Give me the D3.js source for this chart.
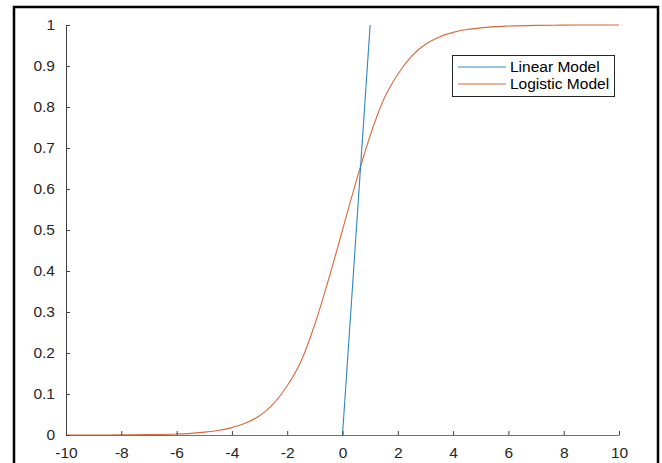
<!DOCTYPE html>
<meta charset="utf-8">
<style>
body { margin: 0; background: #fff; }
text { font-family: "Liberation Sans", Arial, sans-serif; }
</style>
<svg width="662" height="463"></svg>
<script src="https://cdn.jsdelivr.net/npm/d3@7/dist/d3.min.js"></script>
<script>

// values
var linearX = [0, 1];
var linearY = [0, 1];

var logisticX = [-10, -9, -8, -7, -6, -5.5, -5, -4.5, -4, -3.5, -3, -2.5, -2, -1.5, -1, -0.5, 0, 0.5, 1, 1.5, 2, 2.5, 3, 3.5, 4, 4.5, 5, 5.5, 6, 7, 8, 9, 10];
var logisticY = [0.0000, 0.0001, 0.0003, 0.0009, 0.0025, 0.004, 0.007, 0.011, 0.018, 0.029, 0.047, 0.076, 0.12, 0.18, 0.27, 0.38, 0.50, 0.62, 0.73, 0.82, 0.88, 0.924, 0.953, 0.971, 0.982, 0.989, 0.993, 0.996, 0.9975, 0.9991, 0.9997, 0.9999, 1.0];

var xTicks = [-10, -8, -6, -4, -2, 0, 2, 4, 6, 8, 10];
var yTicks = [0, 0.1, 0.2, 0.3, 0.4, 0.5, 0.6, 0.7, 0.8, 0.9, 1];
var seriesNames = ["Linear Model", "Logistic Model"];
var seriesColors = ["#2f86c2", "#d8693a"];

var svg = d3.select("svg");

// outer frame (bottom edge is cut off in the picture)
svg.append("rect")
   .attr("x", 14)
   .attr("y", 7)
   .attr("width", 644)
   .attr("height", 480)
   .attr("fill", "none")
   .attr("stroke", "#000")
   .attr("stroke-width", 2.5);

var x = d3.scaleLinear().domain([-10, 10]).range([66, 619]);
var y = d3.scaleLinear().domain([0, 1]).range([435, 25]);

var line = d3.line()
             .x(function(d) { return x(d[0]); })
             .y(function(d) { return y(d[1]); });

var linearData = d3.zip(linearX, linearY);
var logisticData = d3.zip(logisticX, logisticY);

svg.append("path")
   .datum(logisticData)
   .attr("fill", "none")
   .attr("stroke", seriesColors[1])
   .attr("stroke-width", 1.1)
   .attr("d", line.curve(d3.curveMonotoneX));

svg.append("path")
   .datum(linearData)
   .attr("fill", "none")
   .attr("stroke", seriesColors[0])
   .attr("stroke-width", 1.1)
   .attr("d", line.curve(d3.curveLinear));

var xAxis = svg.append("g")
               .attr("transform", "translate(0," + y(0) + ")")
               .call(d3.axisBottom(x).tickValues(xTicks).tickSizeInner(-4).tickSizeOuter(0).tickPadding(12)
                     .tickFormat(function(d) { return String(d); }));

var yAxis = svg.append("g")
               .attr("transform", "translate(" + x(-10) + ",0)")
               .call(d3.axisLeft(y).tickValues(yTicks).tickSizeInner(-4).tickSizeOuter(0).tickPadding(11)
                     .tickFormat(function(d) { return String(+d.toFixed(1)); }));

[xAxis, yAxis].forEach(function(g) {
  g.selectAll("path, line").attr("stroke", "#404040");
  g.selectAll("text")
   .attr("fill", "#262626")
   .style("font-size", "15.5px")
   .style("font-family", "'Liberation Sans', Arial, sans-serif");
});
xAxis.select(".domain").attr("stroke", "#707070");

// legend
var legend = svg.append("g");
legend.append("rect")
      .attr("x", 452.5)
      .attr("y", 55.5)
      .attr("width", 162)
      .attr("height", 41)
      .attr("fill", "#fff")
      .attr("stroke", "#262626")
      .attr("stroke-width", 1);

seriesNames.forEach(function(name, i) {
  var ly = 67 + i * 17;
  legend.append("line")
        .attr("x1", 458)
        .attr("x2", 506)
        .attr("y1", ly)
        .attr("y2", ly)
        .attr("stroke", seriesColors[i])
        .attr("stroke-width", 1.1);
  legend.append("text")
        .attr("x", 510)
        .attr("y", ly + 5)
        .attr("fill", "#000")
        .style("font-size", "15.5px")
        .text(name);
});

</script>
